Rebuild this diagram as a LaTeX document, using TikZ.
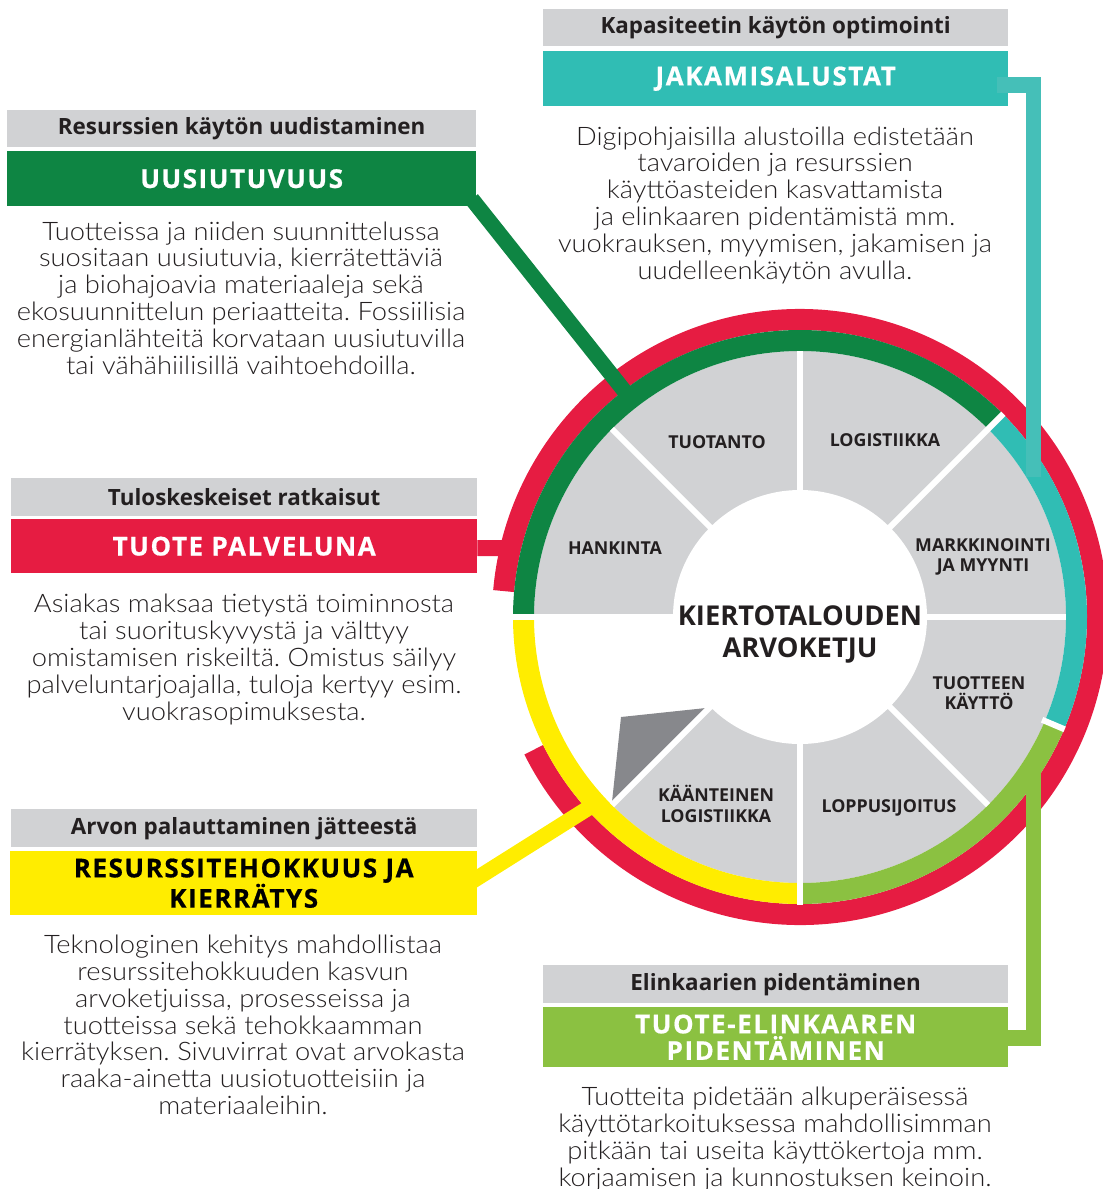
\documentclass[tikz,border=0pt]{standalone}
\usepackage{fontspec}
\setmainfont{Open Sans}
\newfontfamily\osb{Open Sans}
\newfontfamily\ttl{Open Sans}[LetterSpace=6,FakeBold=0.6]
\newfontfamily\bodyf{Lato Light}[FakeStretch=1.07]
\definecolor{cgreen}{HTML}{0E8543}
\definecolor{cred}{HTML}{E61C42}
\definecolor{cteal}{HTML}{30BDB4}
\definecolor{cteal2}{HTML}{45BFB8}
\definecolor{clgreen}{HTML}{8BC141}
\definecolor{cyellow}{HTML}{FFED00}
\definecolor{cgray}{HTML}{D1D2D4}
\definecolor{cptr}{HTML}{87888C}
\definecolor{ctext}{HTML}{231F20}
\frenchspacing
\tikzset{
  hdrbox/.style={fill=cgray, text=ctext, font=\osb\bfseries\fontsize{22.4}{26}\selectfont, inner sep=0pt, anchor=north west},
  ttlbox/.style={text=white, font=\ttl\bfseries\fontsize{26}{26.5}\selectfont, inner sep=0pt, anchor=north west, align=center},
  bodytext/.style={text=ctext, font=\bodyf\fontsize{25.5}{26.8}\selectfont, align=center, inner sep=0pt},
  seclab/.style={text=ctext, font=\osb\bfseries\fontsize{17.8}{20.5}\selectfont, align=center, inner sep=0pt},
  centerlab/.style={text=ctext, font=\osb\bfseries\fontsize{27.3}{32}\selectfont, align=center, inner sep=0pt},
  ringarc/.style={line width=21pt},
  divider/.style={white, line width=6pt},
  conn/.style={line width=15.5pt},
}
\begin{document}
\begin{tikzpicture}[x=1pt,y=1pt]
\useasboundingbox (0,0) rectangle (1103,-1189);
\coordinate (C) at (800,-617);

% ---------- boxes ----------
\node[hdrbox, minimum width=469pt, minimum height=37pt] (h1) at (7,-110) {Resurssien käytön uudistaminen};
\node[ttlbox, fill=cgreen, minimum width=469pt, minimum height=55pt] (b1) at (7,-151) {UUSIUTUVUUS};

\node[hdrbox, minimum width=466pt, minimum height=38pt] (h2) at (11,-478) {Tuloskeskeiset ratkaisut};
\node[ttlbox, fill=cred, minimum width=466pt, minimum height=54pt] (b2) at (11,-519) {TUOTE PALVELUNA};

\node[hdrbox, minimum width=466pt, minimum height=38pt] (h3) at (11,-809) {Arvon palauttaminen jätteestä};
\node[ttlbox, fill=cyellow, text=black, minimum width=467pt, minimum height=64pt] (b3) at (10,-851) {RESURSSITEHOKKUUS JA\\KIERRÄTYS};

\node[hdrbox, minimum width=465pt, minimum height=37pt] (h4) at (543,-9) {Kapasiteetin käytön optimointi};
\node[ttlbox, fill=cteal, minimum width=465pt, minimum height=55pt] (b4) at (543,-51) {JAKAMISALUSTAT};

\node[hdrbox, minimum width=465pt, minimum height=38pt] (h5) at (543,-965) {Elinkaarien pidentäminen};
\node[ttlbox, fill=clgreen, minimum width=465pt, minimum height=60pt] (b5) at (543,-1007) {TUOTE-ELINKAAREN\\PIDENTÄMINEN};

% ---------- body texts ----------
\node[bodytext] (t1) at (241,-298) {Tuotteissa ja niiden suunnittelussa\\suositaan uusiutuvia, kierrätettäviä\\ja biohajoavia materiaaleja sekä\\ekosuunnittelun periaatteita. Fossiilisia\\energianlähteitä korvataan uusiutuvilla\\tai vähähiilisillä vaihtoehdoilla.};
\node[bodytext] (t4) at (775,-205) {Digipohjaisilla alustoilla edistetään\\tavaroiden ja resurssien\\käyttöasteiden kasvattamista\\ja elinkaaren pidentämistä mm.\\vuokrauksen, myymisen, jakamisen ja\\uudelleenkäytön avulla.};
\node[bodytext] (t2) at (244,-659.5) {Asiakas maksaa tietystä toiminnosta\\tai suorituskyvystä ja välttyy\\omistamisen riskeiltä. Omistus säilyy\\palveluntarjoajalla, tuloja kertyy esim.\\vuokrasopimuksesta.};
\node[bodytext] (t3) at (243,-1025) {Teknologinen kehitys mahdollistaa\\resurssitehokkuuden kasvun\\arvoketjuissa, prosesseissa ja\\tuotteissa sekä tehokkaamman\\kierrätyksen. Sivuvirrat ovat arvokasta\\raaka-ainetta uusiotuotteisiin ja\\materiaaleihin.};
\node[bodytext] (t5) at (775,-1139) {Tuotteita pidetään alkuperäisessä\\käyttötarkoituksessa mahdollisimman\\pitkään tai useita käyttökertoja mm.\\korjaamisen ja kunnostuksen keinoin.};

% ---------- wheel ----------
\foreach \a in {-90,-45,0,45,90,135,225}
  \fill[cgray] (C) -- ([shift={(\a:266)}]C) arc[start angle=\a, delta angle=45, radius=266] -- cycle;
\fill[white] (C) circle[radius=127];
\fill[cptr] (621,-717) -- (706,-708) -- (612,-802) -- cycle;

% red outer ring
\draw[cred, ringarc] ([shift={(-153.5:297.5)}]C) arc[start angle=-153.5, end angle=175, radius=297.5];

% connectors (under coloured ring)
\coordinate (gstart) at (471.8,-199);
\coordinate (gend) at (630.2,-398.3);
\draw[cgreen, conn] (gstart) -- (gend);
\coordinate (yend) at (595.6,-803.5);
\draw[cyellow, conn] ([shift={(-7,-4.4)}]b3.east |- 0,-878) -- (yend);
\coordinate (rend) at (512,-548);
\draw[cred, line width=16pt] ([yshift=-2pt]b2.east) -- (rend);
\coordinate (lgend) at (1033.5,-765);
\draw[clgreen, conn, line join=miter] ([xshift=-8pt]b5.east |- 0,-1038) -| (lgend);

% coloured ring
\draw[cgreen, ringarc] ([shift={(45:276.5)}]C) arc[start angle=45, end angle=180, radius=276.5];
\draw[cteal, ringarc] ([shift={(-23:276.5)}]C) arc[start angle=-23, end angle=45, radius=276.5];
\draw[clgreen, ringarc] ([shift={(-90:276.5)}]C) arc[start angle=-90, end angle=-23, radius=276.5];
\draw[cyellow, ringarc] ([shift={(180:276.5)}]C) arc[start angle=180, end angle=270, radius=276.5];

% white dividers
\foreach \a in {0,90,135,-45,225}
  \draw[divider] ([shift={(\a:120)}]C) -- ([shift={(\a:266)}]C);
\foreach \a in {45,180,270}
  \draw[divider] ([shift={(\a:120)}]C) -- ([shift={(\a:287.5)}]C);
\draw[divider] ([shift={(-23:263)}]C) -- ([shift={(-23:287.5)}]C);

% teal connector (drawn on top)
\coordinate (tend) at (1033.5,-477);
\draw[cteal2, conn, line join=miter] ([xshift=-11pt]b4.east |- 0,-85) -| (tend);

% sector labels
\node[seclab] (s1) at (717,-442) {TUOTANTO};
\node[seclab] (s2) at (885,-440) {LOGISTIIKKA};
\node[seclab] (s3) at (983,-557) {MARKKINOINTI\\JA MYYNTI};
\node[seclab] (s4) at (615,-548) {HANKINTA};
\node[seclab] (s5) at (979,-693) {TUOTTEEN\\KÄYTTÖ};
\node[seclab] (s6) at (889,-808) {LOPPUSIJOITUS};
\node[seclab] (s7) at (716,-804) {KÄÄNTEINEN\\LOGISTIIKKA};
\node[centerlab] (ctr) at (800,-634) {KIERTOTALOUDEN\\ARVOKETJU};
\end{tikzpicture}
\end{document}
